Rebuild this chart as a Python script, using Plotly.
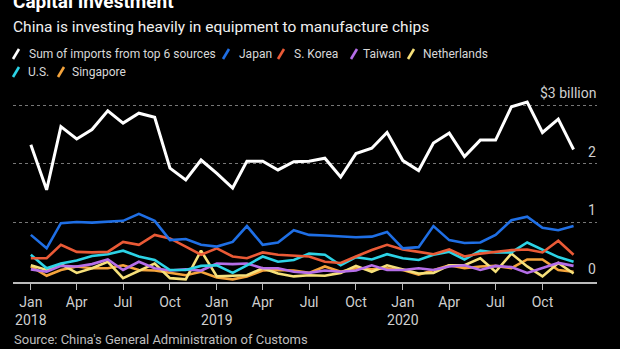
import plotly.graph_objects as go
import pandas as pd

W, H = 620, 349

months = pd.date_range("2018-01-01", "2020-12-01", freq="MS")

total = [2.32, 1.55, 2.63, 2.42, 2.58, 2.90, 2.69, 2.86, 2.79, 1.92, 1.72, 2.06,
         1.83, 1.58, 2.04, 2.04, 1.89, 2.03, 2.04, 2.09, 1.77, 2.17, 2.26, 2.53,
         2.05, 1.88, 2.35, 2.52, 2.12, 2.40, 2.40, 2.97, 3.05, 2.53, 2.76, 2.24]
japan = [0.78, 0.55, 0.98, 1.00, 0.99, 1.00, 1.02, 1.14, 1.02, 0.69, 0.71, 0.61,
         0.58, 0.66, 0.93, 0.61, 0.65, 0.86, 0.78, 0.77, 0.76, 0.74, 0.75, 0.83,
         0.55, 0.57, 0.93, 0.69, 0.64, 0.65, 0.78, 1.03, 1.09, 0.90, 0.86, 0.93]
korea = [0.38, 0.38, 0.61, 0.49, 0.48, 0.49, 0.66, 0.61, 0.78, 0.72, 0.58, 0.44,
         0.55, 0.41, 0.38, 0.48, 0.44, 0.42, 0.41, 0.32, 0.30, 0.41, 0.52, 0.61,
         0.53, 0.49, 0.45, 0.53, 0.41, 0.46, 0.49, 0.52, 0.53, 0.48, 0.68, 0.44]
taiwan = [0.19, 0.15, 0.25, 0.24, 0.28, 0.36, 0.18, 0.32, 0.21, 0.17, 0.19, 0.17,
          0.29, 0.28, 0.29, 0.21, 0.21, 0.15, 0.13, 0.17, 0.15, 0.17, 0.26, 0.18,
          0.18, 0.21, 0.18, 0.24, 0.26, 0.18, 0.25, 0.23, 0.13, 0.21, 0.30, 0.25]
netherlands = [0.26, 0.18, 0.28, 0.13, 0.21, 0.32, 0.04, 0.17, 0.29, 0.04, 0.02, 0.51,
               0.07, 0.08, 0.09, 0.21, 0.12, 0.07, 0.09, 0.08, 0.13, 0.25, 0.15, 0.26,
               0.19, 0.12, 0.13, 0.26, 0.26, 0.38, 0.15, 0.46, 0.24, 0.07, 0.30, 0.12]
us = [0.44, 0.21, 0.29, 0.34, 0.42, 0.45, 0.51, 0.41, 0.35, 0.18, 0.18, 0.25,
      0.26, 0.13, 0.26, 0.41, 0.32, 0.35, 0.46, 0.44, 0.26, 0.40, 0.36, 0.45,
      0.38, 0.35, 0.44, 0.49, 0.36, 0.51, 0.48, 0.48, 0.65, 0.52, 0.40, 0.32]
singapore = [0.24, 0.08, 0.18, 0.24, 0.21, 0.21, 0.26, 0.18, 0.17, 0.13, 0.09, 0.15,
             0.05, 0.02, 0.07, 0.17, 0.18, 0.17, 0.13, 0.24, 0.15, 0.21, 0.19, 0.21,
             0.18, 0.10, 0.18, 0.26, 0.21, 0.24, 0.25, 0.21, 0.36, 0.36, 0.18, 0.15]

series_names = ["Sum of imports from top 6 sources", "Japan", "S. Korea", "Taiwan",
                "Netherlands", "U.S.", "Singapore"]
series_values = [total, japan, korea, taiwan, netherlands, us, singapore]
colors = ["#ffffff", "#1f6fe5", "#ea5a36", "#b56ee8", "#f6e07a", "#2cd3e6", "#f5a43c"]
widths = [3, 2.6, 2.6, 2.6, 2.6, 2.6, 2.6]

tick_dates = pd.date_range("2018-01-01", "2020-10-01", freq="3MS")
tick_text = [d.strftime("%b") + ("<br>" + d.strftime("%Y") if d.month == 1 else "")
             for d in tick_dates]

y_ticks = [0, 1, 2, 3]
y_tick_text = ["0", "1", "2", "$3 billion"]

FONT = "Roboto, sans-serif"

fig = go.Figure()
order = [6, 4, 3, 5, 2, 1, 0]
for i in order:
    fig.add_trace(go.Scatter(x=months, y=series_values[i], name=series_names[i],
                             mode="lines", line=dict(color=colors[i], width=widths[i]),
                             showlegend=False))

def px(x):
    return x / W

def py(y):
    return 1 - y / H

y0_px, y3_px = 280.5, 105.0
unit = (y0_px - y3_px) / 3
r0, r1 = -0.03, 3.2
dom_bottom = py(y0_px - r0 * unit)
dom_top = py(y0_px - r1 * unit)

annotations = []
shapes = []
annotations.append(dict(text="<b>Capital Investment</b>", x=px(11), y=py(15), xref="paper", yref="paper",
                        xanchor="left", yanchor="bottom", showarrow=False,
                        font=dict(family=FONT, size=19, color="#ffffff")))
annotations.append(dict(text="China is investing heavily in equipment to manufacture chips",
                        x=px(11), y=py(38), xref="paper", yref="paper",
                        xanchor="left", yanchor="bottom", showarrow=False,
                        font=dict(family=FONT, size=15.5, color="#f0f0f0")))

legend_pos = [(13, 27, 54), (223, 237, 54), (278, 292, 54), (351, 361, 54),
              (408, 421, 54), (13, 26, 72), (58, 70, 72)]
for i, (sx, tx, ry) in enumerate(legend_pos):
    shapes.append(dict(type="line", xref="paper", yref="paper",
                       x0=px(sx), y0=py(ry + 5), x1=px(sx + 6), y1=py(ry - 5),
                       line=dict(color=colors[i], width=2.6)))
    annotations.append(dict(text=series_names[i], x=px(tx), y=py(ry), xref="paper", yref="paper",
                            xanchor="left", yanchor="middle", showarrow=False,
                            font=dict(family=FONT, size=12, color="#d8d8d8")))

for v, t in zip(y_ticks, y_tick_text):
    annotations.append(dict(text=t, x=px(598), y=v, xref="paper", yref="y",
                            xanchor="right", yanchor="bottom", yshift=2, showarrow=False,
                            font=dict(family=FONT, size=14, color="#cfcfcf")))

annotations.append(dict(text="Source: China's General Administration of Customs",
                        x=px(12), y=py(349), xref="paper", yref="paper",
                        xanchor="left", yanchor="bottom", showarrow=False,
                        font=dict(family=FONT, size=13, color="#bdbdbd")))

fig.update_layout(
    width=W, height=H,
    margin=dict(l=0, r=0, t=0, b=0),
    paper_bgcolor="#000000", plot_bgcolor="#000000",
    showlegend=False,
    annotations=annotations, shapes=shapes,
    xaxis=dict(domain=[px(13), px(597)], type="date",
               range=["2017-11-27", "2021-01-16"],
               tickvals=list(tick_dates), ticktext=tick_text,
               ticks="outside", ticklen=6, tickcolor="#bbbbbb", tickwidth=1,
               showgrid=False, zeroline=False,
               showline=True, linecolor="#bbbbbb", linewidth=1.5,
               tickfont=dict(family=FONT, size=14, color="#cfcfcf"),
               fixedrange=True),
    yaxis=dict(domain=[dom_bottom, dom_top], range=[r0, r1],
               tickvals=[1, 2, 3], showticklabels=False,
               showgrid=True, gridcolor="#777777", griddash="dot", gridwidth=1,
               zeroline=False, showline=False, ticks="",
               fixedrange=True),
)

fig.write_html("out.html")
